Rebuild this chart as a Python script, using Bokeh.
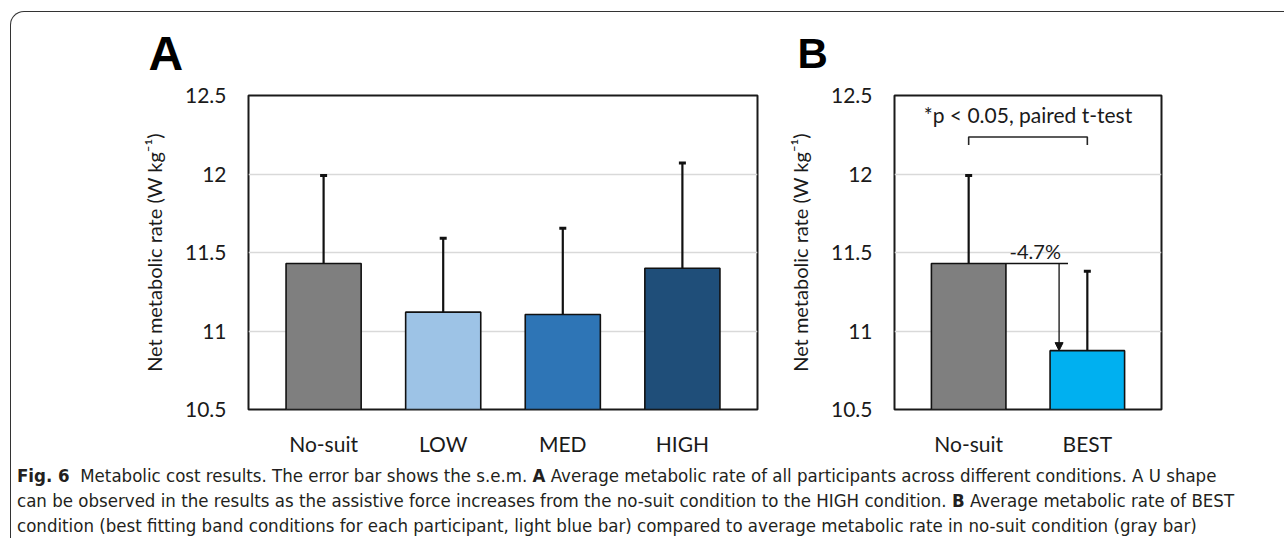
import numpy as np
from bokeh.plotting import figure
from bokeh.models import (Range1d, FixedTicker, ColumnDataSource, Whisker, TeeHead,
                          Arrow, NormalHead, Label, Div, Title)
from bokeh.layouts import row, column
from bokeh.embed import file_html
from bokeh.resources import INLINE

# ---------------- data ----------------
a_categories = ["No-suit", "LOW", "MED", "HIGH"]
a_values = [11.43, 11.12, 11.105, 11.40]
a_sem = [0.56, 0.47, 0.55, 0.67]
a_colors = ["#7f7f7f", "#9dc3e6", "#2e75b6", "#1f4e79"]

b_categories = ["No-suit", "BEST"]
b_values = [11.43, 10.875]
b_sem = [0.56, 0.505]
b_colors = ["#7f7f7f", "#00b0f0"]

y_ticks = [10.5, 11, 11.5, 12, 12.5]
y_tick_labels = ["10.5", "11", "11.5", "12", "12.5"]
y_label = "Net metabolic rate (W kg\u207b\u00b9)"

sig_text = "*p < 0.05, paired t-test"
change_text = "-4.7%"

FONT = "Lato"
TXT = "#1a1a1a"
BAR_W = 0.628
PAD = 0.628


def make_panel(cats, vals, errs, colors, frame_w, mb_left, mb_right, letter, letter_size, letter_off, letter_standoff):
    n = len(cats)
    xs = list(range(n))
    p = figure(width=mb_left + frame_w + mb_right, height=83 + 318 + 45,
               min_border_left=mb_left, min_border_right=mb_right,
               min_border_top=83, min_border_bottom=45,
               x_range=Range1d(-PAD, n - 1 + PAD), y_range=Range1d(y_ticks[0], y_ticks[-1]),
               output_backend="svg", toolbar_location=None, tools="",
               title=Title(text=letter, text_font="Liberation Sans", text_font_style="bold",
                           text_font_size=letter_size, text_color="#000000", align="left",
                           vertical_align="top", offset=letter_off, standoff=letter_standoff))
    src = ColumnDataSource(dict(x=xs, top=vals, color=colors,
                                upper=[v + e for v, e in zip(vals, errs)]))
    p.vbar(x="x", top="top", bottom=y_ticks[0], width=BAR_W, fill_color="color",
           line_color="#111111", line_width=1.6, source=src)
    p.add_layout(Whisker(base="x", lower="top", upper="upper", source=src, dimension="height",
                         line_color="#111111", line_width=2.2, level="overlay",
                         upper_head=TeeHead(size=7, line_width=3, line_color="#111111"),
                         lower_head=None))
    # axes
    p.xaxis.ticker = FixedTicker(ticks=xs)
    p.xaxis.major_label_overrides = {i: c for i, c in zip(xs, cats)}
    p.yaxis.ticker = FixedTicker(ticks=y_ticks)
    p.yaxis.major_label_overrides = {t: l for t, l in zip(y_ticks, y_tick_labels)}
    for ax in (p.xaxis[0], p.yaxis[0]):
        ax.major_tick_in = 0
        ax.major_tick_out = 0
        ax.minor_tick_in = 0
        ax.minor_tick_out = 0
        ax.axis_line_color = None
        ax.major_label_text_font = FONT
        ax.major_label_text_font_size = "21px"
        ax.major_label_text_color = TXT
    p.yaxis.major_label_standoff = 22
    p.xaxis.major_label_standoff = 21
    p.yaxis.axis_label = y_label
    p.yaxis.axis_label_text_font = FONT
    p.yaxis.axis_label_text_font_size = "20px"
    p.yaxis.axis_label_text_font_style = "normal"
    p.yaxis.axis_label_text_color = TXT
    p.yaxis.axis_label_standoff = 16
    p.xgrid.grid_line_color = None
    p.ygrid.ticker = FixedTicker(ticks=y_ticks[1:-1])
    p.ygrid.grid_line_color = "#d9d9d9"
    p.ygrid.grid_line_width = 1.5
    p.outline_line_color = "#1a1a1a"
    p.outline_line_width = 2
    p.outline_line_alpha = 1
    p.background_fill_color = "white"
    p.border_fill_color = None
    return p


pA = make_panel(a_categories, a_values, a_sem, a_colors, 509, 237, 20, "A", "48px", -100, 28)
pB = make_panel(b_categories, b_values, b_sem, b_colors, 267, 117, 40, "B", "42px", -97, 34)
pB.x_range = Range1d(-0.625, 1.625)

# significance bracket in B
x0, x1 = 0, 1
br_top, br_bot = 12.236, 12.184
pB.line(x=[x0, x0, x1, x1], y=[br_bot, br_top, br_top, br_bot], line_color="#262626", line_width=1.6)
pB.add_layout(Label(x=(x0 + x1) / 2, y=12.38, text=sig_text, text_font=FONT, text_font_size="21px",
                    text_color=TXT, text_align="center", text_baseline="alphabetic"))

# reduction arrow in B
arrow_x = x1 - 0.238
pB.segment(x0=[x0 + BAR_W / 2], y0=[b_values[0]], x1=[x1 - 0.163], y1=[b_values[0]],
           line_color="#111111", line_width=1.3)
pB.add_layout(Arrow(x_start=arrow_x, y_start=b_values[0], x_end=arrow_x, y_end=b_values[1],
                    line_color="#111111", line_width=1.3,
                    end=NormalHead(size=8, fill_color="#111111", line_color="#111111", line_width=1)))
pB.add_layout(Label(x=x1 - 0.439, y=b_values[0] + 0.08, text=change_text, text_font=FONT,
                    text_font_size="20px", text_color=TXT, text_align="center",
                    text_baseline="alphabetic"))

caption_html = (
    "<div style=\"font-family:'Liberation Sans Narrow','DejaVu Sans Condensed','Noto Sans',sans-serif;"
    "font-size:18.5px;line-height:25px;color:#231f20;white-space:nowrap;padding-left:1px;\">"
    "<b>Fig. 6</b>&nbsp; Metabolic cost results. The error bar shows the s.e.m. <b>A</b> Average metabolic rate "
    "of all participants across different conditions. A U shape<br>"
    "can be observed in the results as the assistive force increases from the no-suit condition to the HIGH "
    "condition. <b>B</b> Average metabolic rate of BEST<br>"
    "condition (best fitting band conditions for each participant, light blue bar) compared to average metabolic "
    "rate in no-suit condition (gray bar)</div>"
)
caption = Div(text=caption_html, width=1270, height=74)

layout = column(row(pA, pB), caption, margin=(11, 0, 0, 10),
                styles={"border-top": "1.5px solid #333333", "border-left": "1.5px solid #333333",
                        "border-top-left-radius": "14px"})

open("out.html", "w").write(file_html(layout, INLINE))
